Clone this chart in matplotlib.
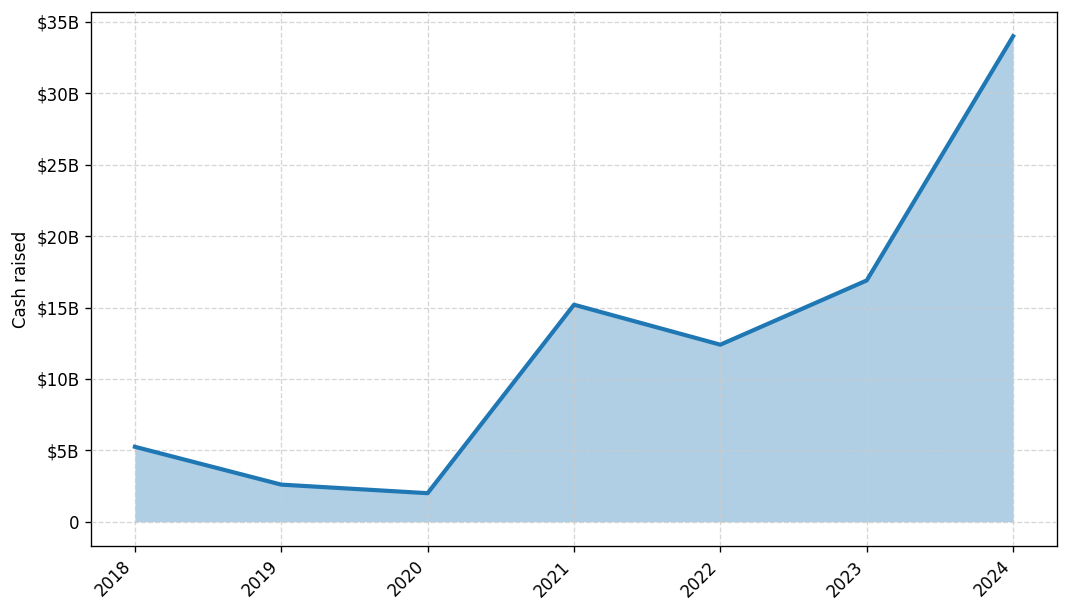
import matplotlib
matplotlib.use("Agg")
import matplotlib.pyplot as plt
from matplotlib.ticker import FuncFormatter

# data (billions of USD)
years = ["2018", "2019", "2020", "2021", "2022", "2023", "2024"]
cash_raised = [5.25, 2.6, 2.0, 15.2, 12.4, 16.9, 34.0]

x = list(range(len(years)))

fig, ax = plt.subplots(figsize=(8.9, 5.1), dpi=120)
ax.fill_between(x, cash_raised, 0, color="#1f77b4", alpha=0.35, linewidth=0, zorder=1)
ax.plot(x, cash_raised, color="#1f77b4", linewidth=2.5, zorder=3)

ax.grid(True, linestyle="--", color="#cccccc", alpha=0.8, zorder=2)
ax.set_axisbelow(False)

def fmt_b(v, pos):
    if v == 0:
        return "0"
    return f"${v:.0f}B"

ax.yaxis.set_major_formatter(FuncFormatter(fmt_b))
ax.set_yticks([0, 5, 10, 15, 20, 25, 30, 35])
ax.set_xticks(x)
ax.set_xticklabels(years, rotation=45, ha="right")
ax.set_ylabel("Cash raised")

fig.subplots_adjust(left=0.0852, right=0.9897, top=0.9804, bottom=0.1078)
plt.savefig("out.png")
